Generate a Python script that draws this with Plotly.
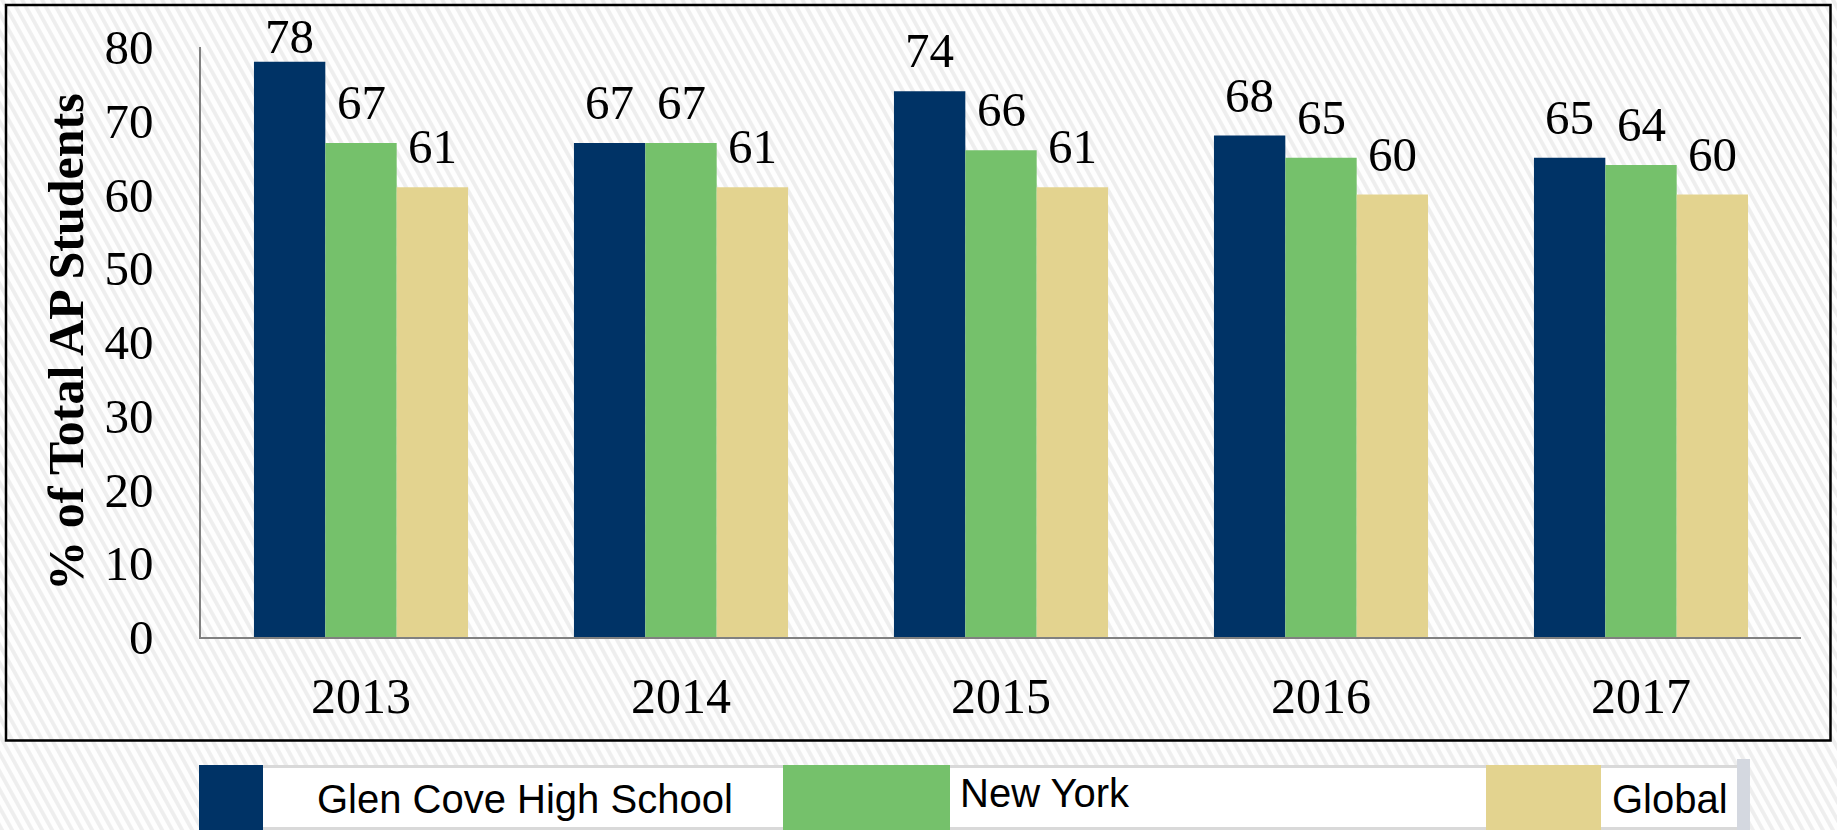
import base64
import plotly.graph_objects as go

# ---------------- data ----------------
years = ["2013", "2014", "2015", "2016", "2017"]
series_names = ["Glen Cove High School", "New York", "Global"]
glen_cove = [78, 67, 74, 68, 65]
new_york = [67, 67, 66, 65, 64]
global_vals = [61, 61, 61, 60, 60]
series_colors = ["#003366", "#75C16B", "#E3D38F"]
y_ticks = [0, 10, 20, 30, 40, 50, 60, 70, 80]
y_title = "% of Total AP Students"

series_values = [glen_cove, new_york, global_vals]

# ---------------- layout geometry (styling) ----------------
W, H = 1837, 830
ML, MR, MT, MB = 201, 36, 47, 193
PW = W - ML - MR
PH = H - MT - MB
BARGAP = 0.331
Y_MAX = 80
PX_PER_UNIT = PH / Y_MAX
LABEL_GAP_PX = 22
LABEL_MIN_TOP_PX = 55
SERIF = "Liberation Serif"
SANS = "Liberation Sans"


def px_x(p):
    return (p - ML) / PW


def px_y(p):
    return (H - MB - p) / PH


fig = go.Figure()
for name, vals, col in zip(series_names, series_values, series_colors):
    fig.add_trace(go.Bar(name=name, x=years, y=vals, marker_color=col,
                         marker_line_width=0, hoverinfo="x+y+name"))

# data labels
annotations = []
bw = (1 - BARGAP) / len(series_names)
label_ceiling = (H - MB - LABEL_MIN_TOP_PX) / PX_PER_UNIT
for j, vals in enumerate(series_values):
    for i, v in enumerate(vals):
        yb = min(v + LABEL_GAP_PX / PX_PER_UNIT, label_ceiling)
        annotations.append(dict(
            x=i + (j - (len(series_names) - 1) / 2) * bw, y=yb,
            xref="x", yref="y", text=str(v), showarrow=False,
            xanchor="center", yanchor="bottom", yshift=-11,
            font=dict(family=SERIF, size=49, color="#000000")))

# custom legend
legend_swatches = [(199, 263), (783, 950), (1486, 1601)]
legend_text_pos = [(315, 799), (958, 793), (1610, 799)]
shapes = []
# frame
shapes.append(dict(type="rect", xref="paper", yref="paper",
                   x0=px_x(6), x1=px_x(1830.5), y0=px_y(740.5), y1=px_y(5),
                   line=dict(color="#000000", width=2.5), fillcolor="rgba(0,0,0,0)",
                   layer="above"))
# legend box
shapes.append(dict(type="rect", xref="paper", yref="paper",
                   x0=px_x(199), x1=px_x(1737), y0=px_y(830), y1=px_y(765),
                   line=dict(width=0), fillcolor="#ffffff", layer="above"))
shapes.append(dict(type="rect", xref="paper", yref="paper",
                   x0=px_x(199), x1=px_x(1737), y0=px_y(768), y1=px_y(765),
                   line=dict(width=0), fillcolor="#d9d9d9", layer="above"))
shapes.append(dict(type="rect", xref="paper", yref="paper",
                   x0=px_x(199), x1=px_x(1737), y0=px_y(830), y1=px_y(827),
                   line=dict(width=0), fillcolor="#d9d9d9", layer="above"))
shapes.append(dict(type="rect", xref="paper", yref="paper",
                   x0=px_x(1737), x1=px_x(1750), y0=px_y(830), y1=px_y(759),
                   line=dict(width=0), fillcolor="#d4d8e0", layer="above"))
for (x0, x1), col in zip(legend_swatches, series_colors):
    shapes.append(dict(type="rect", xref="paper", yref="paper",
                       x0=px_x(x0), x1=px_x(x1), y0=px_y(830), y1=px_y(765),
                       line=dict(width=0), fillcolor=col, layer="above"))
for name, (tx, ty) in zip(series_names, legend_text_pos):
    annotations.append(dict(x=px_x(tx), y=px_y(ty), xref="paper", yref="paper",
                            text=name, showarrow=False, xanchor="left", yanchor="middle",
                            font=dict(family=SANS, size=40, color="#000000")))

# hatched background
svg = ("<svg xmlns='http://www.w3.org/2000/svg' width='%d' height='%d'>"
       "<defs><pattern id='p' width='8.75' height='10' patternUnits='userSpaceOnUse' "
       "patternTransform='rotate(-29)'>"
       "<rect width='8.75' height='10' fill='#fefefe'/>"
       "<rect width='3.8' height='10' fill='#eeeeee'/></pattern></defs>"
       "<rect width='100%%' height='100%%' fill='url(#p)'/></svg>") % (W, H)
bg_src = "data:image/svg+xml;base64," + base64.b64encode(svg.encode()).decode()

fig.update_layout(
    width=W, height=H,
    margin=dict(l=ML, r=MR, t=MT, b=MB, pad=0),
    paper_bgcolor="#ffffff", plot_bgcolor="rgba(0,0,0,0)",
    barmode="group", bargap=BARGAP, bargroupgap=0,
    showlegend=False,
    annotations=annotations,
    shapes=shapes,
    images=[dict(source=bg_src, xref="paper", yref="paper",
                 x=px_x(0), y=px_y(0), sizex=W / PW, sizey=H / PH,
                 xanchor="left", yanchor="top", sizing="stretch", layer="below")],
    xaxis=dict(type="category", range=[-0.5, len(years) - 0.5],
               showline=True, linecolor="#808080", linewidth=1.5,
               ticks="", showgrid=False, zeroline=False,
               tickfont=dict(family=SERIF, size=50, color="#000000"),
               ticklabelstandoff=14),
    yaxis=dict(range=[0, Y_MAX], tickvals=y_ticks,
               showline=True, linecolor="#808080", linewidth=1.5,
               ticks="", showgrid=False, zeroline=False,
               tickfont=dict(family=SERIF, size=49, color="#000000"),
               ticklabelstandoff=36,
               title=dict(text=y_title, standoff=5,
                          font=dict(family=SERIF, size=50, color="#000000", weight="bold"))),
)

fig.write_html("out.html", config={"displayModeBar": False},
               post_script="document.body.style.margin='0';")
